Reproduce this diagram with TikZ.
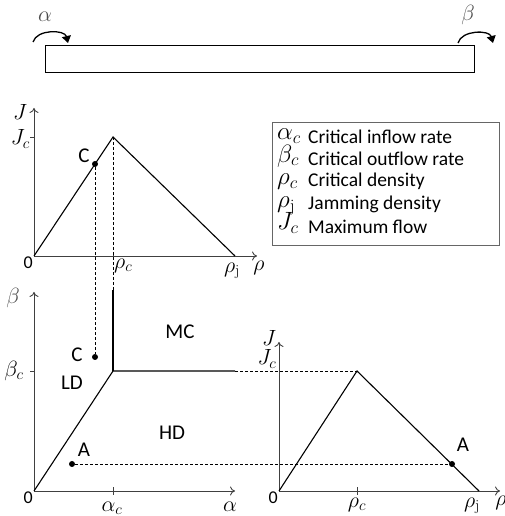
\RequirePackage{fix-cm}
\documentclass[tikz,border=0pt]{standalone}
\usepackage{fontspec}
\setsansfont{Carlito}
\usepackage{tikz}
\usetikzlibrary{arrows.meta,positioning}

\tikzset{
  axis/.style={draw=black!75, line width=0.9pt, -{To[length=5pt,width=9pt]}},
  curve/.style={line width=1.1pt},
  guide/.style={densely dashed, line width=0.6pt},
  flow/.style={line width=1.3pt, -{Triangle[length=7pt,width=9pt]}},
  region/.style={font=\sffamily\fontsize{21}{21}\selectfont, inner sep=1pt},
  zero/.style={font=\sffamily\fontsize{18}{18}\selectfont, inner sep=1pt},
  sym/.style={font=\fontsize{22}{22}\selectfont, inner sep=1pt},
  dot/.style={circle, fill, inner sep=0pt, minimum size=6pt},
}

\begin{document}
\begin{tikzpicture}[x=1pt, y=1pt]
  \useasboundingbox (0,0) rectangle (505,516);

  % lane with inflow and outflow
  \node[draw, line width=0.9pt, minimum width=429pt, minimum height=27pt, inner sep=0pt,
        anchor=south west] (lane) at (45,443) {};
  \coordinate (in0) at (33,474);
  \coordinate (in1) at (68,473);
  \coordinate (out0) at (458,473);
  \coordinate (out1) at (493,473);
  \draw[flow] (in0) to[bend left=75] (in1);
  \draw[flow] (out0) to[bend left=75] (out1);
  \node[sym, text=black!70] (alpha) at (45,499) {$\alpha$};
  \node[sym, text=black!70] (beta) at (468,501) {$\beta$};

  % fundamental diagram (top left)
  \coordinate (O1) at (34,260);
  \coordinate (J1) at (34,408);
  \coordinate (X1) at (257,260);
  \coordinate (P1) at (113,379);
  \coordinate (R1) at (235,260);
  \draw[axis] (O1) -- (J1);
  \draw[axis] (O1) -- (X1);
  \draw[curve] (O1) -- (P1) -- (R1);
  \draw[black!75, line width=0.8pt] (30,379) -- (34,379);
  \draw[black!75, line width=0.8pt] (113,256) -- (113,264);
  \node[dot] (C1) at (95,352) {};
  \node[region, left=1pt of C1, anchor=south east] (Clab1) {C};
  \node[sym] (Jlab1) at (20,404) {$J$};
  \node[sym, anchor=east] (Jc1) at (31,377) {$J_c$};
  \node[zero, below left=0pt of O1] (zero1) {0};
  \node[sym, anchor=north west] (rc1) at (113,258) {$\rho_c$};
  \node[sym] (rj1) at (232,245) {$\rho_{\mathrm{j}}$};
  \node[sym] (rho1) at (259,248) {$\rho$};

  % legend
  \node[draw=black!60, line width=0.8pt, minimum width=227pt, minimum height=123pt,
        anchor=south west, inner sep=0pt] (legend) at (272,270) {};
  \foreach \s/\t [count=\i] in {{\alpha_c}/Critical inflow rate,
                                 {\beta_c}/Critical outflow rate,
                                 {\rho_c}/Critical density,
                                 {\rho_{\mathrm{j}}}/Jamming density,
                                 {J_c}/Maximum flow}{
      \node[anchor=west, inner sep=0pt, text height=11pt, text depth=5pt,
            font=\fontsize{25}{25}\selectfont] (ls\i) at (277,402-\i*22.6) {$\s$};
      \node[anchor=west, inner sep=0pt, font=\sffamily\fontsize{19.5}{19.5}\selectfont] (lt\i) at (308,402-\i*22.6) {\t};
  }

  % phase diagram (bottom left)
  \coordinate (O2) at (34,25);
  \coordinate (B2) at (34,224);
  \coordinate (A2) at (235,25);
  \coordinate (K) at (113,145);
  \coordinate (Kr) at (235,145);
  \coordinate (Ku) at (113,226);
  \draw[axis] (O2) -- (B2);
  \draw[axis] (O2) -- (A2);
  \draw[curve] (O2) -- (K) -- (Kr);
  \draw[curve] (K) -- (Ku);
  \draw[black!75, line width=0.8pt] (30,145) -- (34,145);
  \draw[black!75, line width=0.8pt] (113,21) -- (113,29);
  \node[dot] (C2) at (95,159) {};
  \node[dot] (A2d) at (72,52) {};
  \node[region] (Clab2) at (77,161) {C};
  \node[region] (Alab2) at (84,66) {A};
  \node[region] (LD) at (72,133) {LD};
  \node[region] (MC) at (180,184) {MC};
  \node[region] (HD) at (172,83) {HD};
  \node[sym, text=black!70] (blab) at (13,218) {$\beta$};
  \node[sym] (bc) at (14,145) {$\beta_c$};
  \node[sym] (ac) at (112,8) {$\alpha_c$};
  \node[sym] (alab) at (230,9) {$\alpha$};
  \node[zero, below left=0pt of O2] (zero2) {0};

  % fundamental diagram (bottom right)
  \coordinate (O3) at (279,25);
  \coordinate (J3) at (279,174);
  \coordinate (X3) at (500,25);
  \coordinate (P3) at (357,145);
  \coordinate (R3) at (479,25);
  \draw[axis] (O3) -- (J3);
  \draw[axis] (O3) -- (X3);
  \draw[curve] (O3) -- (P3) -- (R3);
  \draw[black!75, line width=0.8pt] (357,21) -- (357,29);
  \node[dot] (A3) at (452,52) {};
  \node[region] (Alab3) at (463,71) {A};
  \node[sym] (Jlab3) at (269,178) {$J$};
  \node[sym] (Jc3) at (267,157) {$J_c$};
  \node[zero, below left=0pt of O3] (zero3) {0};
  \node[sym] (rc3) at (357,11) {$\rho_c$};
  \node[sym] (rj3) at (472,10) {$\rho_{\mathrm{j}}$};
  \node[sym] (rho3) at (501,13) {$\rho$};

  % guides between the diagrams
  \draw[guide] (P1) -- (Ku);
  \draw[guide] (C1) -- (C2);
  \draw[guide] (Kr) -- (P3);
  \draw[guide] (A2d) -- (A3);
\end{tikzpicture}
\end{document}
